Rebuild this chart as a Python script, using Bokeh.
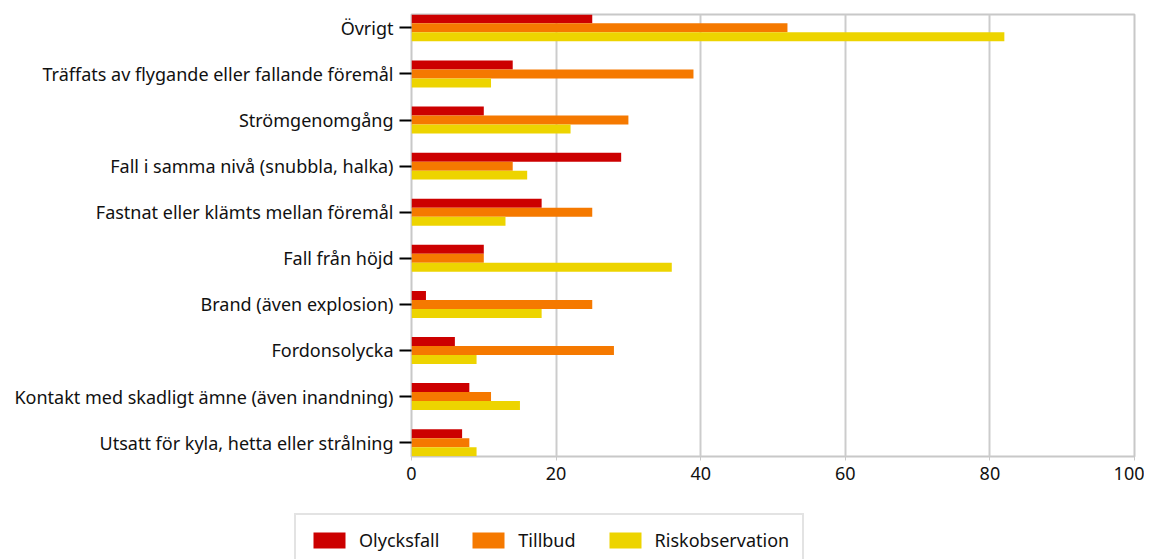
import numpy as np
from bokeh.plotting import figure
from bokeh.layouts import column
from bokeh.models import ColumnDataSource, Range1d, FixedTicker, Legend, LegendItem
from bokeh.embed import file_html
from bokeh.resources import INLINE

categories = [
    "Övrigt",
    "Träffats av flygande eller fallande föremål",
    "Strömgenomgång",
    "Fall i samma nivå (snubbla, halka)",
    "Fastnat eller klämts mellan föremål",
    "Fall från höjd",
    "Brand (även explosion)",
    "Fordonsolycka",
    "Kontakt med skadligt ämne (även inandning)",
    "Utsatt för kyla, hetta eller strålning",
]
olycksfall = [25, 14, 10, 29, 18, 10, 2, 6, 8, 7]
tillbud = [52, 39, 30, 14, 25, 10, 25, 28, 11, 8]
riskobservation = [82, 11, 22, 16, 13, 36, 18, 9, 15, 9]
series_names = ["Olycksfall", "Tillbud", "Riskobservation"]
colors = ["#CC0000", "#F57900", "#EDD400"]
x_ticks = [0, 20, 40, 60, 80, 100]

n = len(categories)
ypos = np.arange(n)[::-1].astype(float)  # first category at top

FONT = "Noto Sans"
W = 1144
H1 = 500
H2 = 59
FL, FR, FT, FB = 411, 1134, 14, 456
p = figure(width=W, height=H1, output_backend="svg", toolbar_location=None,
           x_range=Range1d(0, 100), y_range=Range1d(-0.3, n - 1 + 0.29),
           min_border_left=FL, min_border_right=W - FR,
           min_border_top=FT, min_border_bottom=H1 - FB)

bh = 0.195
offsets = [bh, 0.0, -bh]
for name, vals, col, off in zip(series_names, [olycksfall, tillbud, riskobservation], colors, offsets):
    src = ColumnDataSource(dict(y=ypos + off, right=vals))
    p.hbar(y="y", right="right", left=0, height=bh, source=src,
           fill_color=col, line_color=None)

# axes
p.yaxis.ticker = FixedTicker(ticks=list(ypos))
p.yaxis.major_label_overrides = {float(y): c for y, c in zip(ypos, categories)}
p.yaxis.major_tick_out = 12
p.yaxis.major_tick_in = 0
p.yaxis.major_tick_line_color = "#000000"
p.yaxis.major_tick_line_width = 2
p.yaxis.minor_tick_line_color = None
p.yaxis.axis_line_color = None
p.yaxis.major_label_standoff = 6

p.xaxis.ticker = FixedTicker(ticks=x_ticks)
p.xaxis.major_tick_out = 4
p.xaxis.major_tick_in = 0
p.xaxis.major_tick_line_color = "#c8c8c8"
p.xaxis.minor_tick_line_color = None
p.xaxis.axis_line_color = None
p.xaxis.major_label_standoff = 6

for ax in (p.xaxis, p.yaxis):
    ax.major_label_text_font = FONT
    ax.major_label_text_font_size = "18px"
    ax.major_label_text_color = "#111111"

p.ygrid.grid_line_color = None
p.xgrid.grid_line_color = "#cccccc"
p.xgrid.grid_line_width = 2
p.outline_line_color = "#c8c8c8"
p.outline_line_width = 2

# legend strip (its own small figure below the chart)
leg = figure(width=W, height=H2, output_backend="svg", toolbar_location=None,
             x_range=Range1d(0, 1), y_range=Range1d(0, 1),
             min_border=0, outline_line_color=None)
leg.frame_align = False
leg.axis.visible = False
leg.grid.visible = False
items = []
for nm, col in zip(series_names, colors):
    # zero-size swatch renderers outside the visible range; only used for legend glyphs
    r = leg.hbar(y=[50], right=[0], left=[0], height=0.1, fill_color=col, line_color=None)
    items.append(LegendItem(label=nm, renderers=[r]))

legend = Legend(items=items, orientation="horizontal", location=(294, H2 - 17 - 53 + 3))
legend.glyph_width = 40
legend.glyph_height = 20
legend.label_standoff = 10
legend.spacing = 29
legend.padding = 13
legend.margin = 0
legend.label_text_font = FONT
legend.label_text_font_size = "18px"
legend.label_text_color = "#111111"
legend.border_line_color = "#c8c8c8"
legend.border_line_width = 2
legend.background_fill_alpha = 1
leg.add_layout(legend, "center")

layout = column(p, leg, spacing=0)
open("out.html", "w").write(file_html(layout, INLINE))
